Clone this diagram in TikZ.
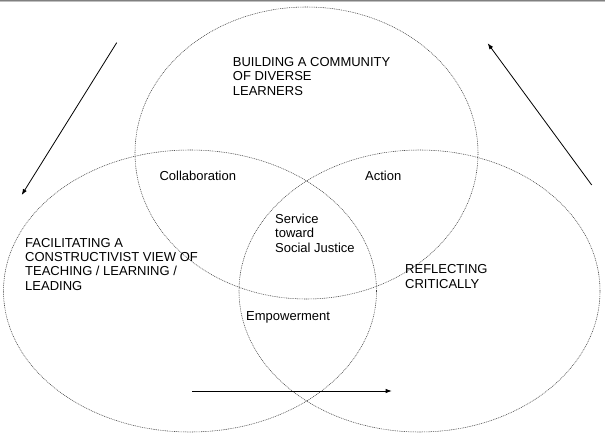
\documentclass[tikz,border=0pt]{standalone}
\usepackage{fontspec}
\setmainfont{Liberation Sans}
\usetikzlibrary{shapes.geometric,arrows.meta}
\begin{document}
\begin{tikzpicture}[x=1pt,y=-1pt,
  circ/.style={ellipse,draw=black!75,line width=0.55pt,dash pattern=on 0.9pt off 0.9pt,inner sep=0pt},
  lbl/.style={anchor=base west,inner sep=0pt,align=left,font=\fontsize{13}{14.3}\selectfont,text=black},
  flow/.style={draw=black,line width=0.8pt,-{Latex[length=6pt,width=4.5pt]}}]
\useasboundingbox (0,0) rectangle (605,438);
\fill[white] (0,0) rectangle (605,438);
\fill[black!50] (0,0) rectangle (605,1);
\fill[black!25] (0,1) rectangle (605,2);
% circles
\node[circ,minimum width=343pt,minimum height=292pt] (top) at (306.5,153) {};
\node[circ,minimum width=373pt,minimum height=282pt] (left) at (190,291) {};
\node[circ,minimum width=361pt,minimum height=282pt] (right) at (419.5,291) {};
% labels (anchored at the baseline of the last line)
\node[lbl] (build) at (232.7,95.3) {BUILDING A COMMUNITY\\OF DIVERSE\\LEARNERS};
\node[lbl] (collab) at (159.3,180.7) {Collaboration};
\node[lbl] (action) at (365,180.7) {Action};
\node[lbl,font=\fontsize{13}{14.5}\selectfont] (service) at (275,252.3) {Service\\toward\\Social Justice};
\node[lbl] (facil) at (25,290.2) {FACILITATING A\\CONSTRUCTIVIST VIEW OF\\TEACHING / LEARNING /\\LEADING};
\node[lbl,font=\fontsize{13}{15}\selectfont] (reflect) at (405,288.3) {REFLECTING\\CRITICALLY};
\node[lbl] (empower) at (246,320) {Empowerment};
% arrows
\coordinate (a1s) at (116.7,42.7);
\coordinate (a1e) at (21.7,195);
\coordinate (a2s) at (591.7,185);
\coordinate (a2e) at (487.7,43.3);
\coordinate (a3s) at (192.3,391);
\coordinate (a3e) at (391.7,391);
\draw[flow] (a1s) -- (a1e);
\draw[flow] (a2s) -- (a2e);
\draw[flow] (a3s) -- (a3e);
\end{tikzpicture}
\end{document}
